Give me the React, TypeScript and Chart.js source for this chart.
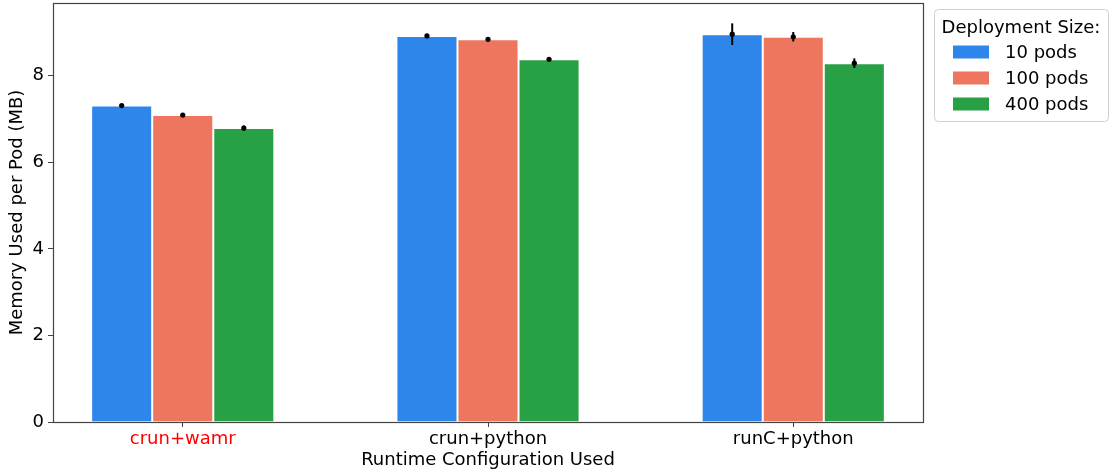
import React, { useEffect, useRef } from "react";
import { Chart, registerables } from "chart.js";

Chart.register(...registerables);

const categories = ["crun+wamr", "crun+python", "runC+python"];
const seriesLabels = ["10 pods", "100 pods", "400 pods"];
const seriesColors = ["#2e86eb", "#ee765e", "#28a046"];
const pods10 = [7.31, 8.92, 8.96];
const pods100 = [7.09, 8.84, 8.9];
const pods400 = [6.79, 8.38, 8.29];
const err10 = [0.02, 0.02, 0.25];
const err100 = [0.02, 0.02, 0.11];
const err400 = [0.06, 0.02, 0.11];
const yTicks = [0, 2, 4, 6, 8];

const FONT = "'DejaVu Sans', sans-serif";

const errorBarPlugin = {
  id: "errorBars",
  afterDatasetsDraw(chart: any) {
    const ctx = chart.ctx;
    const yScale = chart.scales.y;
    ctx.save();
    chart.data.datasets.forEach((ds: any, di: number) => {
      const meta = chart.getDatasetMeta(di);
      meta.data.forEach((el: any, i: number) => {
        const v = ds.data[i].y;
        const e = ds.errors[i];
        const x = el.x;
        const yTop = yScale.getPixelForValue(v + e);
        const yBot = yScale.getPixelForValue(v - e);
        const yMid = yScale.getPixelForValue(v);
        ctx.strokeStyle = "#000";
        ctx.lineWidth = 2;
        ctx.beginPath();
        ctx.moveTo(x, yTop);
        ctx.lineTo(x, yBot);
        ctx.stroke();
        ctx.fillStyle = "#000";
        ctx.beginPath();
        ctx.arc(x, yMid, 2.6, 0, Math.PI * 2);
        ctx.fill();
      });
    });
    ctx.restore();
  },
};

const framePlugin = {
  id: "frame",
  afterDraw(chart: any) {
    const { ctx, chartArea } = chart;
    ctx.save();
    ctx.strokeStyle = "#444";
    ctx.lineWidth = 1.2;
    ctx.strokeRect(
      Math.round(chartArea.left) + 0.5,
      Math.round(chartArea.top) + 0.5,
      Math.round(chartArea.right - chartArea.left),
      Math.round(chartArea.bottom - chartArea.top)
    );
    // legend
    const lx = chartArea.right + 11;
    const ly = 9;
    const lw = 174;
    const lh = 112;
    ctx.strokeStyle = "#d0d0d0";
    ctx.lineWidth = 1;
    ctx.fillStyle = "rgba(255,255,255,0.8)";
    ctx.beginPath();
    (ctx as any).roundRect(lx + 0.5, ly + 0.5, lw, lh, 4);
    ctx.fill();
    ctx.stroke();
    ctx.fillStyle = "#000";
    ctx.font = `18px ${FONT}`;
    ctx.textBaseline = "middle";
    ctx.textAlign = "center";
    ctx.fillText("Deployment Size:", lx + lw / 2, ly + 19);
    ctx.textAlign = "left";
    chart.data.datasets.forEach((ds: any, i: number) => {
      const cy = ly + 43 + i * 26;
      ctx.fillStyle = ds.backgroundColor;
      ctx.fillRect(lx + 19, cy - 6.5, 36, 13);
      ctx.fillStyle = "#000";
      ctx.fillText(ds.label, lx + 71, cy + 1);
    });
    ctx.restore();
  },
};

export default function App() {
  const canvasRef = useRef<HTMLCanvasElement | null>(null);

  useEffect(() => {
    document.body.style.margin = "0";
    const canvas = canvasRef.current;
    if (!canvas) return;
    const values = [pods10, pods100, pods400];
    const errs = [err10, err100, err400];
    const chart = new Chart(canvas, {
      type: "bar",
      data: {
        datasets: seriesLabels.map((label, k) => ({
          label,
          data: categories.map((_, i) => ({ x: i, y: values[k][i] })),
          errors: errs[k],
          backgroundColor: seriesColors[k],
          borderColor: "#ffffff",
          borderWidth: 1,
          borderSkipped: "bottom",
          categoryPercentage: 0.6,
          barPercentage: 1.0,
        })) as any,
      },
      options: {
        responsive: false,
        animation: false,
        layout: { padding: { left: 0, top: 3, right: 187, bottom: 0 } },
        plugins: {
          legend: { display: false },
          tooltip: { enabled: false },
        },
        scales: {
          x: {
            type: "linear",
            min: -0.425,
            max: 2.425,
            offset: false,
            afterFit: (s: any) => {
              s.height = 50;
              s.paddingLeft = 0;
              s.paddingRight = 0;
            },
            afterBuildTicks: (s: any) => {
              s.ticks = categories.map((_, i) => ({ value: i }));
            },
            ticks: {
              autoSkip: false,
              maxRotation: 0,
              padding: 2,
              font: { family: FONT, size: 18 },
              color: (c: any) => (c.index === 0 ? "#ff0000" : "#000"),
              callback: (v: any) => categories[Number(v)] ?? "",
            },
            grid: {
              offset: false,
              drawOnChartArea: false,
              drawTicks: true,
              tickLength: 5,
              color: "#444",
            },
            border: { display: false },
            title: {
              display: true,
              text: "Runtime Configuration Used",
              font: { family: FONT, size: 18 },
              color: "#000",
              padding: { top: 0, bottom: 1 },
            },
          },
          y: {
            min: 0,
            max: 9.68,
            afterFit: (s: any) => {
              s.width = 53;
              s.paddingTop = 0;
              s.paddingBottom = 0;
            },
            afterBuildTicks: (s: any) => {
              s.ticks = yTicks.map((v) => ({ value: v }));
            },
            ticks: {
              padding: 4,
              font: { family: FONT, size: 18 },
              color: "#000",
            },
            grid: {
              drawOnChartArea: false,
              drawTicks: true,
              tickLength: 5,
              color: "#444",
            },
            border: { display: false },
            title: {
              display: true,
              text: "Memory Used per Pod (MB)",
              font: { family: FONT, size: 18 },
              color: "#000",
              padding: { top: 7, bottom: 0 },
            },
          },
        },
      },
      plugins: [errorBarPlugin, framePlugin],
    });
    return () => chart.destroy();
  }, []);

  return (
    <div style={{ width: 1110, height: 472 }}>
      <canvas ref={canvasRef} width={1110} height={472} />
    </div>
  );
}
